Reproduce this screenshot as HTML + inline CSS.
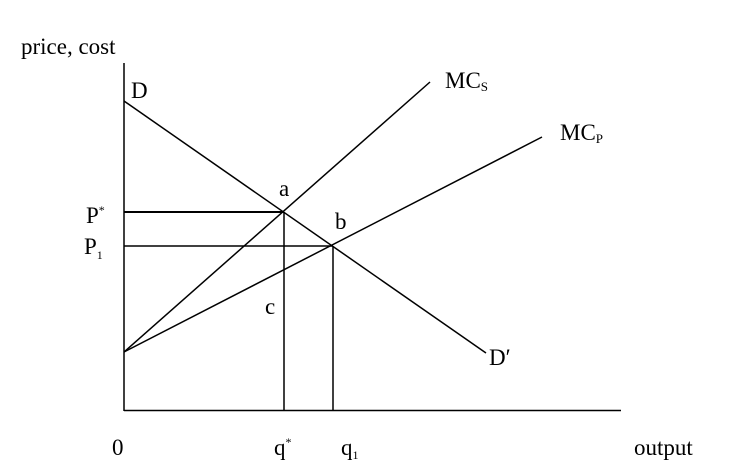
<!DOCTYPE html>
<html><head><style>
html,body{margin:0;padding:0;background:#fff;}
svg{display:block;}
text{font-family:"Liberation Serif",serif;fill:#000;}
</style></head><body>
<svg width="730" height="469" viewBox="0 0 730 469" xmlns="http://www.w3.org/2000/svg">
<g stroke="#000" stroke-width="1.5" fill="none">
<line x1="124" y1="63" x2="124" y2="411"/>
<line x1="124" y1="410.5" x2="621" y2="410.5"/>
<line x1="124" y1="101" x2="486" y2="353"/>
<line x1="124" y1="352" x2="430" y2="82"/>
<line x1="124" y1="352" x2="542" y2="137"/>
<line x1="124" y1="212" x2="284" y2="212" stroke-width="2"/>
<line x1="124" y1="246" x2="333" y2="246"/>
<line x1="284" y1="212" x2="284" y2="410"/>
<line x1="333" y1="246" x2="333" y2="410"/>
</g>
<g font-size="23">
<text x="21" y="54">price, cost</text>
<text x="131" y="98">D</text>
<text x="445" y="88">MC<tspan font-size="13" dy="3">S</tspan></text>
<text x="560" y="140">MC<tspan font-size="13" dy="3">P</tspan></text>
<text x="279" y="196">a</text>
<text x="335" y="229">b</text>
<text x="86" y="223">P<tspan font-size="12" dy="-9">*</tspan></text>
<text x="84" y="254">P<tspan font-size="12" dy="5">1</tspan></text>
<text x="265" y="314">c</text>
<text x="489" y="365">D′</text>
<text x="112" y="455">0</text>
<text x="274" y="455">q<tspan font-size="12" dy="-9">*</tspan></text>
<text x="341" y="455">q<tspan font-size="12" dy="4">1</tspan></text>
<text x="634" y="455">output</text>
</g>
</svg>
</body></html>
